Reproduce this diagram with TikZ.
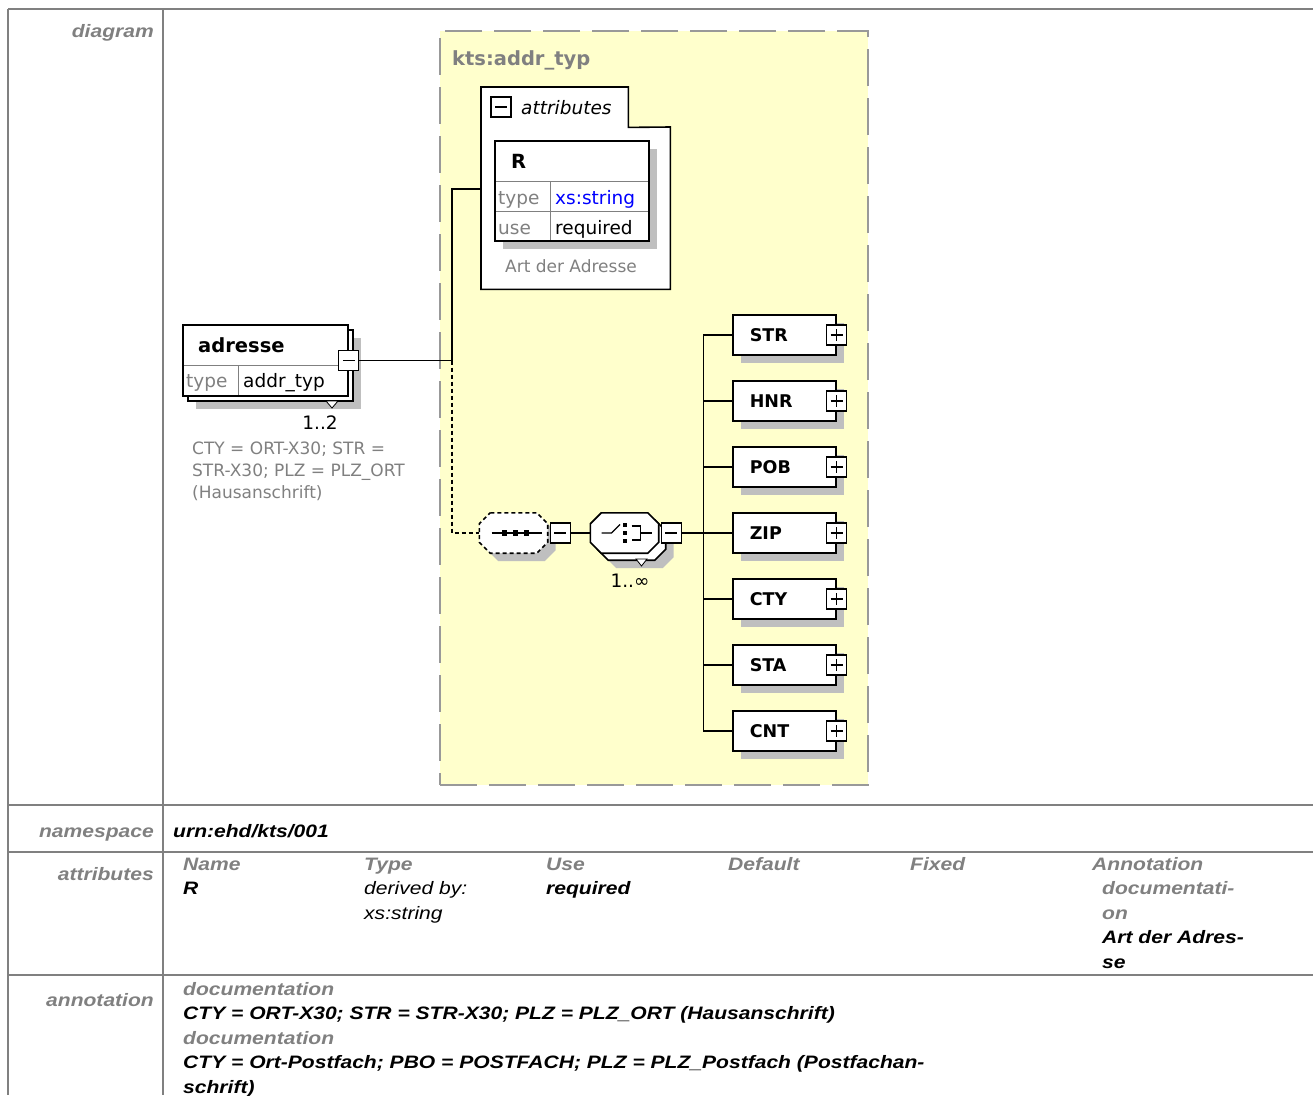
\documentclass[tikz,border=0pt]{standalone}
\usepackage{fontspec}
\usepackage{tikz}
\usetikzlibrary{positioning,shadows}
\newfontfamily\tabfont[FakeStretch=1.17]{Liberation Sans}
\newfontfamily\diagfont{DejaVu Sans}
\definecolor{rulegray}{HTML}{808080}
\definecolor{labelgray}{HTML}{808080}
\definecolor{cmpyellow}{HTML}{FFFFCC}
\definecolor{xsblue}{HTML}{0000FF}
\newcommand{\tabsize}{\fontsize{18}{24.5}\selectfont}
\newcommand{\lnstrut}{\rule{0pt}{16pt}}
% octagon outline round a (blank) node: #1 style, #2 node name
\newcommand{\octagon}[2]{%
  \draw[#1] ([xshift=11pt]#2.north west) -- ([xshift=-11pt]#2.north east)
    -- ([yshift=-11pt]#2.north east) -- ([yshift=11pt]#2.south east)
    -- ([xshift=-11pt]#2.south east) -- ([xshift=11pt]#2.south west)
    -- ([yshift=11pt]#2.south west) -- ([yshift=-11pt]#2.north west) -- cycle;}

\begin{document}
\begin{tikzpicture}[
    x=1pt, y=-1pt,
    tabrule/.style={draw=rulegray, line width=2pt},
    rowlabel/.style={anchor=base east, inner sep=0, font=\tabfont\tabsize\bfseries\itshape, text=labelgray},
    cell/.style={anchor=north west, inner sep=0, align=left, font=\tabfont\tabsize\bfseries\itshape},
    dtext/.style={inner sep=0, anchor=base west, font=\diagfont\fontsize{18.5}{22}\selectfont},
    dbold/.style={inner sep=0, anchor=base west, font=\diagfont\bfseries\fontsize{19.5}{22}\selectfont},
    shade/.style={drop shadow={shadow xshift=8pt, shadow yshift=-8pt, fill=black!25, opacity=1}},
    tabbox/.style={draw, fill=white, line width=1.6pt, inner sep=0},
    elem/.style={tabbox, shade, minimum width=103pt, minimum height=40pt, text width=69pt, inner xsep=17pt, align=left, font=\diagfont\bfseries\fontsize{17.5}{20}\selectfont},
    ctrl/.style={inner sep=0, minimum width=68pt, minimum height=40pt},
    minusbox/.style={draw, fill=white, line width=1.3pt, minimum size=20pt, inner sep=0, path picture={\draw[line width=1.3pt] ([xshift=4pt]path picture bounding box.west) -- ([xshift=-4pt]path picture bounding box.east);}},
    plusbox/.style={minusbox, path picture={\draw[line width=1.3pt] ([xshift=4pt]path picture bounding box.west) -- ([xshift=-4pt]path picture bounding box.east) ([yshift=-4pt]path picture bounding box.north) -- ([yshift=4pt]path picture bounding box.south);}},
    occ/.style={fill=white, line width=0.8pt},
    link/.style={line width=1.9pt},
    optlink/.style={link, dash pattern=on 4pt off 3pt}
]
\useasboundingbox (0,0) rectangle (1313,1095);

% table rules
\draw[tabrule] (8,9) -- (1313,9) (8,805) -- (1313,805) (8,852) -- (1313,852) (8,975) -- (1313,975);
\draw[tabrule] (8,9) -- (8,1095) (163,9) -- (163,1095);

% row labels
\node[rowlabel] (lbldiagram) at (154,37) {diagram};
\node[rowlabel] (lblns) at (154,837) {namespace};
\node[rowlabel] (lblattr) at (154,880) {attributes};
\node[rowlabel] (lblanno) at (154,1006) {annotation};

% complex type
\node[draw=black!40, dash pattern=on 37pt off 12pt, line width=2pt, fill=cmpyellow, minimum width=428pt, minimum height=754pt, inner sep=0, anchor=north west] (addrtyp) at (439,30) {};
\node[dbold, text=labelgray] (typname) at (452,65) {kts:addr\_typ};

% attributes group
\node[inner sep=0, minimum width=147pt, minimum height=40pt, anchor=north west] (attrtab) at (481,87) {};
\node[inner sep=0, minimum width=189pt, minimum height=162pt, anchor=north west] (attrbody) at (481,127) {};
\draw[tabbox] (attrtab.north west) -- (attrtab.north east) -- (attrtab.south east) -- (attrbody.north east) -- (attrbody.south east) -- (attrbody.south west) -- cycle;
\node[minusbox] (attrmin) at (501,107) {};
\node[dtext, font=\diagfont\itshape\fontsize{18.5}{22}\selectfont] (attrlbl) at (521,114) {attributes};
\node[tabbox, shade, minimum width=154pt, minimum height=100pt] (rtab) at (572,191) {};
\draw[black!50, line width=1pt] (496,181) -- (648,181) (496,211) -- (648,211) (550,181) -- (550,240);
\node[dbold] (rname) at (511,168) {R};
\node[dtext, text=labelgray] (rtype) at (498,204) {type};
\node[dtext, text=xsblue] (rtypeval) at (555,204) {xs:string};
\node[dtext, text=labelgray] (ruse) at (498,234) {use};
\node[dtext] (ruseval) at (555,234) {required};
\node[dtext, anchor=base, text=labelgray, font=\diagfont\fontsize{17}{20}\selectfont] (rdoc) at (571,272) {Art der Adresse};

% element adresse
\node[tabbox, shade, minimum width=165pt, minimum height=71pt] (adrback) at (270.5,365.5) {};
\node[tabbox, minimum width=165pt, minimum height=71pt] (adresse) at (265.5,360.5) {};
\draw[black!50, line width=1pt] (184,365) -- (347,365) (238,365) -- (238,395);
\node[dbold] (adrname) at (198,352) {adresse};
\node[dtext, text=labelgray] (adrtype) at (186,387) {type};
\node[dtext] (adrtypeval) at (243,387) {addr\_typ};
\node[minusbox] (adrmin) at (adresse.east) {};
\draw[occ] (326,401) -- (338,401) -- (332,408) -- cycle;
\node[dtext, anchor=base] (adrocc) at (320,429) {1..2};
\node[dtext, anchor=north west, align=left, text=labelgray, font=\diagfont\fontsize{17}{22}\selectfont] (adrdoc) at (192,442) {CTY = ORT-X30; STR =\\STR-X30; PLZ = PLZ\_ORT\\(Hausanschrift)};

% sequence and choice
\node[ctrl] (seq) at (513.5,533) {};
\octagon{tabbox, shade, dash pattern=on 4pt off 3pt}{seq}
\node[minusbox, right=2pt of seq] (seqmin) {};
\node[ctrl] (choiceback) at (631.5,540) {};
\node[ctrl] (choice) at (624.5,533) {};
\octagon{tabbox, shade}{choiceback}
\octagon{tabbox}{choice}
\node[minusbox, right=2pt of choice] (chmin) {};
\draw[occ] (636,559) -- (647,559) -- (641.5,566) -- cycle;
\node[dtext, anchor=base] (choiceocc) at (630,587) {1..∞};
\begin{scope}[shift={(seq.center)}, line width=1.3pt]
  \draw (-22,0) -- (28,0);
  \foreach \dx in {-9,2,13}
    \fill (\dx-2.8,-2.8) rectangle (\dx+2.8,2.8);
\end{scope}
\begin{scope}[shift={(choice.center)}, line width=1.3pt]
  \draw (-23,0) -- (-13,0) -- (-4.5,-8.5);
  \foreach \dy in {-8,0,8}
    \fill (-2,\dy-2.3) rectangle (2.6,\dy+2.3);
  \draw (7,-7) -- (16,-7) -- (16,7) -- (7,7) (16,0) -- (27,0);
\end{scope}

% connectors
\coordinate (fork) at (452,360.5);
\coordinate (attrin) at (481,189);
\draw[link] (adrmin) -- (fork) |- (attrin);
\draw[optlink] (fork) |- (seq.west);
\draw[link] (seqmin) -- (choice);

% child elements
\foreach \nm [count=\i] in {STR,HNR,POB,ZIP,CTY,STA,CNT} {
  \node[elem, anchor=west] (e\i) at (732,269+66*\i) {\nm};
  \node[plusbox] (p\i) at (e\i.east) {};
  \draw[link] (chmin.east) -- ++(21.5,0) |- (e\i.west);
}

% namespace, attributes, annotation
\node[cell, anchor=base west] (nsval) at (173,837) {urn:ehd/kts/001};
\node[cell] (colname) at (183,854) {\lnstrut\textcolor{labelgray}{Name}\\R};
\node[cell] (coltype) at (364,854) {\lnstrut\textcolor{labelgray}{Type}\\{\mdseries derived by:}\\{\mdseries xs:string}};
\node[cell] (coluse) at (546,854) {\lnstrut\textcolor{labelgray}{Use}\\required};
\node[cell] (coldef) at (728,854) {\lnstrut\textcolor{labelgray}{Default}};
\node[cell] (colfix) at (910,854) {\lnstrut\textcolor{labelgray}{Fixed}};
\node[cell] (colann) at (1092,854) {\lnstrut\textcolor{labelgray}{Annotation}};
\node[cell] (annval) at (1102,878.5) {\lnstrut\textcolor{labelgray}{documentati-}\\\textcolor{labelgray}{on}\\Art der Adres-\\se};
\node[cell] (annodoc) at (183,979) {\lnstrut\textcolor{labelgray}{documentation}\\CTY = ORT-X30; STR = STR-X30; PLZ = PLZ\_ORT (Hausanschrift)\\\textcolor{labelgray}{documentation}\\CTY = Ort-Postfach; PBO = POSTFACH; PLZ = PLZ\_Postfach (Postfachan-\\schrift)};
\end{tikzpicture}
\end{document}
